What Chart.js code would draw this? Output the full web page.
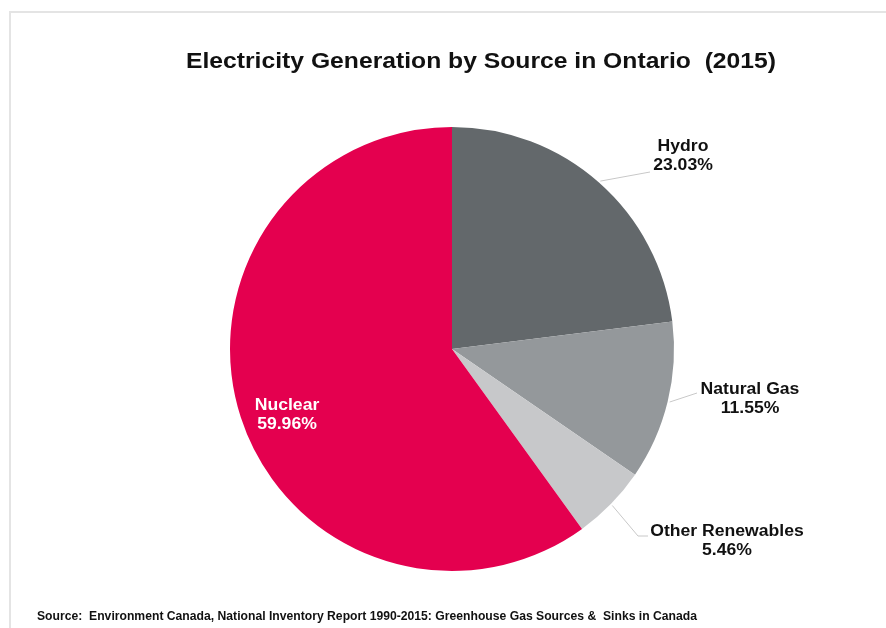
<!DOCTYPE html>
<html>
<head>
<meta charset="utf-8">
<title>Electricity Generation by Source in Ontario (2015)</title>
<script src="https://cdn.jsdelivr.net/npm/chart.js@4/dist/chart.umd.min.js"></script>
<style>
  html, body { margin: 0; padding: 0; background: #fff; }
  canvas { display: block; }
</style>
</head>
<body>
<canvas id="chartOntario" width="886" height="628"></canvas>
<script>
const fuentes = ['Hydro', 'Natural Gas', 'Other Renewables', 'Nuclear'];
const porcentajes = [23.03, 11.55, 5.46, 59.96];
const colores = ['#63686b', '#94989b', '#c7c8ca', '#e4004f'];

const titulo = 'Electricity Generation by Source in Ontario  (2015)';
const fuenteDatos = 'Source:  Environment Canada, National Inventory Report 1990-2015: Greenhouse Gas Sources &  Sinks in Canada';

// where each label sits and how its leader line bends
const etiquetas = [
  { tx: 683, ty: 147, puntos: [[650, 172]] },
  { tx: 750, ty: 390, puntos: [[697, 393]] },
  { tx: 727, ty: 532, puntos: [[638, 536], [648, 536]] },
  { tx: 287, ty: 406, puntos: null }
];

// draws text stretched horizontally to a given width
function textoAncho(ctx, texto, x, y, ancho) {
  const w = ctx.measureText(texto).width;
  ctx.save();
  ctx.translate(x, y);
  ctx.scale(ancho / w, 1);
  ctx.fillText(texto, 0, 0);
  ctx.restore();
}

const marcoYTextos = {
  id: 'marcoYTextos',
  afterDraw(chart) {
    const ctx = chart.ctx;
    ctx.save();

    // light frame around the figure
    ctx.strokeStyle = '#e4e4e4';
    ctx.lineWidth = 2;
    ctx.beginPath();
    ctx.moveTo(10, 640);
    ctx.lineTo(10, 12);
    ctx.lineTo(900, 12);
    ctx.stroke();

    ctx.fillStyle = '#111';
    ctx.textAlign = 'center';
    ctx.textBaseline = 'middle';
    ctx.font = 'bold 22px "Liberation Sans", Arial, sans-serif';
    textoAncho(ctx, titulo, 481, 62, 590);

    ctx.textAlign = 'left';
    ctx.font = 'bold 12.5px "Liberation Sans Narrow", "Liberation Sans", Arial, sans-serif';
    textoAncho(ctx, fuenteDatos, 37, 617, 660);

    const arcos = chart.getDatasetMeta(0).data;
    arcos.forEach((arco, i) => {
      const p = arco.getProps(['x', 'y', 'startAngle', 'endAngle', 'outerRadius'], true);
      const medio = (p.startAngle + p.endAngle) / 2;
      const texto1 = fuentes[i];
      const texto2 = porcentajes[i].toFixed(2) + '%';
      const cfg = etiquetas[i];
      ctx.font = 'bold 16px "Liberation Sans", Arial, sans-serif';
      ctx.textAlign = 'center';

      if (cfg.puntos) {
        const r0 = p.outerRadius + 2;
        ctx.strokeStyle = '#c8c8c8';
        ctx.lineWidth = 1;
        ctx.beginPath();
        ctx.moveTo(p.x + Math.cos(medio) * r0, p.y + Math.sin(medio) * r0);
        cfg.puntos.forEach(pt => ctx.lineTo(pt[0], pt[1]));
        ctx.stroke();
        ctx.fillStyle = '#111';
      } else {
        ctx.fillStyle = '#fff';
      }

      const esc = 1.1;
      textoAncho(ctx, texto1, cfg.tx, cfg.ty, ctx.measureText(texto1).width * esc);
      textoAncho(ctx, texto2, cfg.tx, cfg.ty + 19, ctx.measureText(texto2).width * esc);
    });

    ctx.restore();
  }
};

new Chart(document.getElementById('chartOntario'), {
  type: 'pie',
  data: {
    labels: fuentes,
    datasets: [{
      data: porcentajes,
      backgroundColor: colores,
      borderWidth: 0
    }]
  },
  options: {
    responsive: false,
    animation: false,
    layout: { padding: { left: 230, right: 212, top: 127, bottom: 57 } },
    plugins: {
      legend: { display: false },
      tooltip: { enabled: false },
      title: { display: false }
    }
  },
  plugins: [marcoYTextos]
});
</script>
</body>
</html>
